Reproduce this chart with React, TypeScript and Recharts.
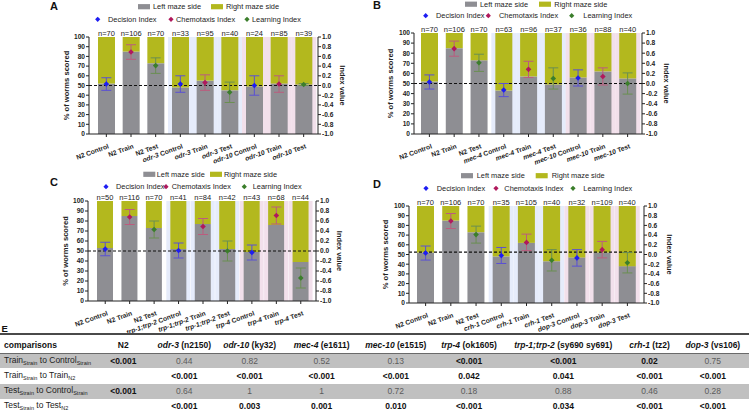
import React from 'react';
import {
  ComposedChart,
  Bar,
  Cell,
  Line,
  XAxis,
  YAxis,
  ReferenceLine,
  ErrorBar,
  LabelList,
} from 'recharts';

// ---------------- DATA ----------------
const panelACategories = ['N2 Control', 'N2 Train', 'N2 Test', 'odr-3 Control', 'odr-3 Train', 'odr-3 Test', 'odr-10 Control', 'odr-10 Train', 'odr-10 Test'];
const panelALeft = [52, 85, 73, 48, 55, 45, 49, 52, 51];
const panelAN = [70, 106, 70, 33, 95, 40, 24, 85, 39];
const panelAIndex = [0.03, 0.69, 0.41, 0.03, 0.06, -0.14, 0.0, 0.03, 0.02];
const panelAErr = [0.13, 0.15, 0.16, 0.17, 0.16, 0.21, 0.2, 0.17, 0.02];

const panelBCategories = ['N2 Control', 'N2 Train', 'N2 Test', 'mec-4 Control', 'mec-4 Train', 'mec-4 Test', 'mec-10 Control', 'mec-10 Train', 'mec-10 Test'];
const panelBLeft = [52, 85, 73, 43, 57, 49, 56, 62, 55];
const panelBN = [70, 106, 70, 63, 96, 37, 36, 88, 40];
const panelBIndex = [0.03, 0.69, 0.41, -0.13, 0.28, 0.1, 0.11, 0.14, 0.0];
const panelBErr = [0.14, 0.15, 0.17, 0.13, 0.16, 0.21, 0.16, 0.17, 0.21];

const panelCCategories = ['N2 Control', 'N2 Train', 'N2 Test', 'trp-1;trp-2 Control', 'trp-1;trp-2 Train', 'trp-1;trp-2 Test', 'trp-4 Control', 'trp-4 Train', 'trp-4 Test'];
const panelCLeft = [53, 85, 73, 52, 77, 52, 49, 76, 39];
const panelCN = [50, 116, 70, 41, 84, 42, 43, 68, 44];
const panelCIndex = [0.04, 0.68, 0.43, 0.01, 0.49, 0.0, -0.03, 0.71, -0.54];
const panelCErr = [0.135, 0.15, 0.17, 0.15, 0.16, 0.2, 0.15, 0.17, 0.2];

const panelDCategories = ['N2 Control', 'N2 Train', 'N2 Test', 'crh-1 Control', 'crh-1 Train', 'crh-1 Test', 'dop-3 Control', 'dop-3 Train', 'dop-3 Test'];
const panelDLeft = [52, 85, 73, 48, 62, 43, 47, 52, 38];
const panelDN = [70, 106, 70, 35, 105, 40, 32, 109, 40];
const panelDIndex = [0.03, 0.69, 0.41, -0.02, 0.25, -0.12, -0.07, 0.1, -0.17];
const panelDErr = [0.145, 0.155, 0.175, 0.165, 0.17, 0.22, 0.17, 0.17, 0.21];

const percentTicks = [0, 10, 20, 30, 40, 50, 60, 70, 80, 90, 100];
const indexTicks = [-1, -0.8, -0.6, -0.4, -0.2, 0, 0.2, 0.4, 0.6, 0.8, 1];

const legendBarLabels = ['Left maze side', 'Right maze side'];
const legendIndexLabels = ['Decision Index', 'Chemotaxis Index', 'Learning Index'];

const tableColumns = ['N2', 'odr-3 (n2150)', 'odr-10 (ky32)', 'mec-4 (e1611)', 'mec-10 (e1515)', 'trp-4 (ok1605)', 'trp-1;trp-2 (sy690 sy691)', 'crh-1 (tz2)', 'dop-3 (vs106)'];
const tableRowLabels = [
  ['Train', 'Strain', 'Control', 'Strain'],
  ['Train', 'Strain', 'Train', 'N2'],
  ['Test', 'Strain', 'Control', 'Strain'],
  ['Test', 'Strain', 'Test', 'N2'],
];
const tableRow1 = ['<0.001', '0.44', '0.82', '0.52', '0.13', '<0.001', '<0.001', '0.02', '0.75'];
const tableRow2 = ['', '<0.001', '<0.001', '<0.001', '<0.001', '0.042', '0.041', '<0.001', '<0.001'];
const tableRow3 = ['<0.001', '0.64', '1', '1', '0.72', '0.18', '0.88', '0.46', '0.28'];
const tableRow4 = ['', '<0.001', '0.003', '0.001', '0.010', '<0.001', '0.034', '<0.001', '<0.001'];

// ---------------- STYLE ----------------
const FONT = '"Liberation Sans", Arial, Helvetica, sans-serif';
const GRAY = '#8e8e93';
const YELLOW = '#b3b81e';
const GROUP_SHADES = ['none', '#e6ecfb', '#f2e0eb'];
const DI_COLOR = '#1d1df2';
const DI_ERR = '#5a50d4';
const CI_COLOR = '#b0195c';
const CI_ERR = '#bb5c7e';
const LI_COLOR = '#3b7e2b';
const LI_ERR = '#6a8f52';
const INK = '#222';

function buildRows(cats: string[], left: number[], n: number[], idx: number[], err: number[]) {
  return cats.map((cat, i) => {
    const kind = cat.split(' ').pop();
    return {
      cat,
      group: Math.floor(i / 3),
      shade: 100,
      left: left[i],
      right: 100 - left[i],
      n: n[i],
      di: kind === 'Control' ? idx[i] : null,
      diErr: kind === 'Control' ? err[i] : null,
      ci: kind === 'Train' ? idx[i] : null,
      ciErr: kind === 'Train' ? err[i] : null,
      li: kind === 'Test' ? idx[i] : null,
      liErr: kind === 'Test' ? err[i] : null,
    };
  });
}

const XTick = (props: any) => {
  const { x, y, payload } = props;
  const label: string = String(payload.value);
  const k = label.lastIndexOf(' ');
  const strain = label.slice(0, k);
  const cond = label.slice(k);
  const italic = strain !== 'N2';
  return (
    <g transform={`translate(${x + 3},${y + 9})`}>
      <text textAnchor="end" transform="rotate(-20)" fontSize={6.7} fontWeight="bold" fill={INK} fontFamily={FONT}>
        <tspan fontStyle={italic ? 'italic' : 'normal'}>{strain}</tspan>
        <tspan>{cond}</tspan>
      </text>
    </g>
  );
};

const diamond = (cx: number, cy: number, h: number) => `M${cx},${cy - h}L${cx + h},${cy}L${cx},${cy + h}L${cx - h},${cy}Z`;

const makeDot = (color: string) => (p: any) => {
  const key = `d-${p.index}`;
  if (p.value == null || p.cy == null || Number.isNaN(p.cy)) return <g key={key} />;
  return <path key={key} d={diamond(p.cx, p.cy, 2.8)} fill={color} stroke="none" />;
};

type PanelProps = {
  rows: any[];
  L: number; T: number; R: number; B: number;
  leftW: number; rightW: number;
  padL: number; padR: number;
  barSize: number;
  refY: number;
};

function Panel({ rows, L, T, R, B, leftW, rightW, padL, padR, barSize, refY }: PanelProps) {
  const mTop = 14;
  const xH = 45;
  const width = R - L + leftW + rightW;
  const height = B - T + mTop + xH;
  return (
    <div style={{ position: 'absolute', left: L - leftW, top: T - mTop }}>
      <ComposedChart
        width={width}
        height={height}
        data={rows}
        margin={{ top: mTop, right: 0, bottom: 0, left: 0 }}
        barCategoryGap={0}
        barGap={0}
        style={{ fontFamily: FONT }}
      >
        <XAxis xAxisId="bg" dataKey="cat" hide padding={{ left: padL, right: padR }} />
        <XAxis
          dataKey="cat"
          interval={0}
          tick={<XTick />}
          tickSize={3}
          tickMargin={2}
          height={xH}
          padding={{ left: padL, right: padR }}
          axisLine={{ stroke: INK, strokeWidth: 1 }}
          tickLine={{ stroke: INK }}
        />
        <YAxis
          yAxisId="left"
          orientation="left"
          domain={[0, 100]}
          ticks={percentTicks}
          interval={0}
          width={leftW}
          tickSize={3}
          tickMargin={1}
          allowDataOverflow
          tick={{ fontSize: 6.6, fontWeight: 'bold', fill: INK }}
          axisLine={{ stroke: INK }}
          tickLine={{ stroke: INK }}
          label={{ value: '% of worms scored', angle: -90, position: 'center', fontSize: 7.6, fontWeight: 'bold', fill: INK }}
        />
        <YAxis
          yAxisId="right"
          orientation="right"
          domain={[-1, 1]}
          ticks={indexTicks}
          interval={0}
          width={rightW}
          tickSize={3}
          tickMargin={1}
          allowDataOverflow
          tickFormatter={(v: number) => v.toFixed(1)}
          tick={{ fontSize: 6.6, fontWeight: 'bold', fill: INK }}
          axisLine={{ stroke: INK }}
          tickLine={{ stroke: INK }}
          label={{ value: 'Index value', angle: 90, position: 'center', fontSize: 7.4, fontWeight: 'bold', fill: INK }}
        />
        <Bar xAxisId="bg" yAxisId="left" dataKey="shade" isAnimationActive={false} legendType="none">
          {rows.map((r, i) => (
            <Cell key={`sh${i}`} fill={GROUP_SHADES[r.group]} />
          ))}
        </Bar>
        <Bar yAxisId="left" dataKey="left" stackId="s" fill={GRAY} barSize={barSize} isAnimationActive={false} />
        <Bar yAxisId="left" dataKey="right" stackId="s" fill={YELLOW} barSize={barSize} isAnimationActive={false}>
          <LabelList dataKey="n" position="top" offset={1} formatter={(v: any) => `n=${v}`} fontSize={7.5} fill={INK} />
        </Bar>
        <ReferenceLine yAxisId="left" y={refY} stroke="#111" strokeDasharray="3 2" strokeWidth={1.1} />
        <Line yAxisId="right" dataKey="di" stroke="none" isAnimationActive={false} dot={makeDot(DI_COLOR)} activeDot={false} legendType="none">
          <ErrorBar dataKey="diErr" width={5} stroke={DI_ERR} strokeWidth={1} direction="y" />
        </Line>
        <Line yAxisId="right" dataKey="ci" stroke="none" isAnimationActive={false} dot={makeDot(CI_COLOR)} activeDot={false} legendType="none">
          <ErrorBar dataKey="ciErr" width={5} stroke={CI_ERR} strokeWidth={1} direction="y" />
        </Line>
        <Line yAxisId="right" dataKey="li" stroke="none" isAnimationActive={false} dot={makeDot(LI_COLOR)} activeDot={false} legendType="none">
          <ErrorBar dataKey="liErr" width={5} stroke={LI_ERR} strokeWidth={1} direction="y" />
        </Line>
      </ComposedChart>
    </div>
  );
}

type LegendCfg = { y1: number; sw: number[][]; y2: number; mk: number[][] };

function LegendSvg({ cfg }: { cfg: LegendCfg }) {
  const swColors = [GRAY, YELLOW];
  const mkColors = [DI_COLOR, CI_COLOR, LI_COLOR];
  return (
    <g fontFamily={FONT} fontSize={7.4} fill={INK}>
      {cfg.sw.map(([x, tx], i) => (
        <g key={`s${i}`}>
          <rect x={x} y={cfg.y1 - 2.6} width={12} height={5.2} fill={swColors[i]} />
          <text x={tx} y={cfg.y1} dominantBaseline="central">{legendBarLabels[i]}</text>
        </g>
      ))}
      {cfg.mk.map(([cx, tx], i) => (
        <g key={`m${i}`}>
          <path d={diamond(cx, cfg.y2, 2.6)} fill={mkColors[i]} />
          <text x={tx} y={cfg.y2} dominantBaseline="central">{legendIndexLabels[i]}</text>
        </g>
      ))}
    </g>
  );
}

const legendA: LegendCfg = { y1: 6.7, sw: [[138, 153], [211, 226]], y2: 19.3, mk: [[97.7, 108], [171, 176], [247, 252]] };
const legendB: LegendCfg = { y1: 4.2, sw: [[465, 480], [539, 554.3]], y2: 15.7, mk: [[425.7, 436], [488.3, 499], [571.7, 583.3]] };
const legendC: LegendCfg = { y1: 174.3, sw: [[143.3, 156.7], [210, 224]], y2: 186.7, mk: [[106, 116], [166, 171.7], [244.3, 252.7]] };
const legendD: LegendCfg = { y1: 175.7, sw: [[461, 476.7], [535.7, 551.7]], y2: 188.3, mk: [[426, 436.7], [496, 504.3], [573, 583.3]] };

const colCenters = [123.3, 184.3, 249.7, 321.7, 395.8, 469, 563.3, 649.5, 712.8];
const rowCenters = [360.7, 375.7, 391, 406];

function isSig(v: string) {
  if (v.startsWith('<')) return true;
  const num = parseFloat(v);
  return !Number.isNaN(num) && num < 0.05;
}

function Table() {
  const rows = [tableRow1, tableRow2, tableRow3, tableRow4];
  const cell = (x: number, y: number, content: React.ReactNode, extra: React.CSSProperties = {}, key?: string) => (
    <div
      key={key}
      style={{ position: 'absolute', left: x, top: y, transform: 'translate(-50%, -50%)', whiteSpace: 'nowrap', lineHeight: 1, fontSize: 8.5, ...extra }}
    >
      {content}
    </div>
  );
  return (
    <div style={{ position: 'absolute', left: 0, top: 0, width: 749, height: 419, fontFamily: FONT }}>
      <div style={{ position: 'absolute', left: 0, top: 333, width: 749, height: 2, background: '#4a4a4a' }} />
      <div style={{ position: 'absolute', left: 0, top: 352.5, width: 749, height: 1, background: '#6a6a6a' }} />
      <div style={{ position: 'absolute', left: 0, top: 353.5, width: 749, height: 14.8, background: '#c0c0c0' }} />
      <div style={{ position: 'absolute', left: 0, top: 383.5, width: 749, height: 15, background: '#c0c0c0' }} />
      <div style={{ position: 'absolute', left: 4, top: 345, transform: 'translateY(-50%)', fontSize: 8.5, fontWeight: 'bold', color: '#111', lineHeight: 1 }}>comparisons</div>
      {tableColumns.map((c, i) => {
        const k = c.indexOf(' (');
        const gene = k >= 0 ? c.slice(0, k) : c;
        const allele = k >= 0 ? c.slice(k) : '';
        return cell(
          colCenters[i],
          345,
          <span>
            <span style={{ fontStyle: gene === 'N2' ? 'normal' : 'italic' }}>{gene}</span>
            {allele}
          </span>,
          { fontWeight: 'bold', color: '#111' },
          `h${i}`
        );
      })}
      {tableRowLabels.map((r, i) => (
        <div key={`rl${i}`} style={{ position: 'absolute', left: 4, top: rowCenters[i], transform: 'translateY(-50%)', fontSize: 8.5, color: '#222', whiteSpace: 'nowrap', lineHeight: 1 }}>
          {r[0]}
          <span style={{ fontSize: 5.5, verticalAlign: -2 }}>{r[1]}</span>
          {' to '}
          {r[2]}
          <span style={{ fontSize: 5.5, verticalAlign: -2 }}>{r[3]}</span>
        </div>
      ))}
      {rows.map((row, ri) =>
        row.map((v, ci) =>
          v === ''
            ? null
            : cell(colCenters[ci], rowCenters[ri], v, isSig(v) ? { fontWeight: 'bold', color: '#111' } : { color: '#5c5c5c' }, `c${ri}-${ci}`)
        )
      )}
    </div>
  );
}

const rowsA = buildRows(panelACategories, panelALeft, panelAN, panelAIndex, panelAErr);
const rowsB = buildRows(panelBCategories, panelBLeft, panelBN, panelBIndex, panelBErr);
const rowsC = buildRows(panelCCategories, panelCLeft, panelCN, panelCIndex, panelCErr);
const rowsD = buildRows(panelDCategories, panelDLeft, panelDN, panelDIndex, panelDErr);

export default function App() {
  return (
    <div style={{ position: 'absolute', left: 0, top: 0, width: 749, height: 419, background: '#fff', overflow: 'hidden', fontFamily: FONT }}>
      <Panel rows={rowsA} L={89} R={318} T={37} B={134} leftW={45} rightW={50} padL={5} padR={2} barSize={17} refY={50} />
      <Panel rows={rowsB} L={414} R={642} T={33} B={134} leftW={48} rightW={50} padL={3} padR={2} barSize={17} refY={50} />
      <Panel rows={rowsC} L={88} R={316} T={201} B={301} leftW={46} rightW={48} padL={5} padR={3} barSize={16} refY={50} />
      <Panel rows={rowsD} L={409} R={644} T={206} B={303} leftW={48} rightW={52} padL={4} padR={4} barSize={17} refY={52.5} />
      <svg width={749} height={419} style={{ position: 'absolute', left: 0, top: 0, pointerEvents: 'none' }}>
        <LegendSvg cfg={legendA} />
        <LegendSvg cfg={legendB} />
        <LegendSvg cfg={legendC} />
        <LegendSvg cfg={legendD} />
        <g fontFamily={FONT} fontWeight="bold" fontSize={11} fill="#111">
          <text x={50} y={10}>A</text>
          <text x={373} y={9.3}>B</text>
          <text x={50} y={186.3}>C</text>
          <text x={373} y={188}>D</text>
          <text x={1.5} y={332.2} fontSize={9.5}>E</text>
        </g>
      </svg>
      <Table />
    </div>
  );
}
